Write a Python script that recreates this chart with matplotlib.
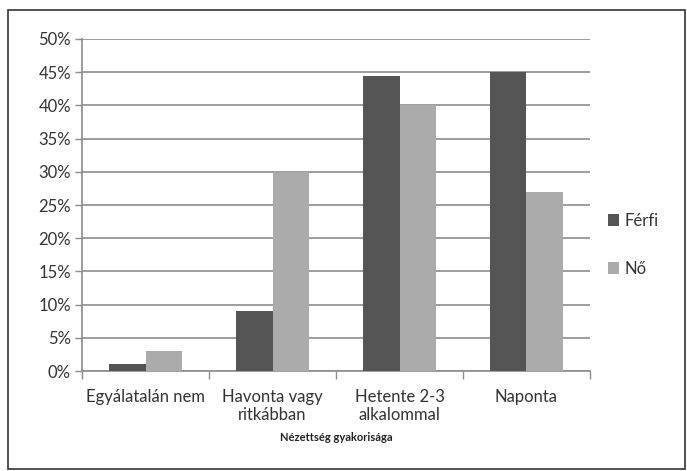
import numpy as np
import matplotlib.pyplot as plt
from matplotlib.patches import Rectangle

plt.rcParams['font.family'] = ['Lato', 'DejaVu Sans']

# nézettség gyakorisága nemenként (%)
categories = ['Egyálatalán nem', 'Havonta vagy\nritkábban', 'Hetente 2-3\nalkalommal', 'Naponta']
ferfi = [1, 9, 44.5, 45]
no = [3, 30, 40, 27]

fig = plt.figure(figsize=(6.87, 4.71), dpi=100)
ax = fig.add_axes([0.1194, 0.2123, 0.7394, 0.7049])

x = np.arange(len(categories))
w = 0.287
ax.bar(x - w / 2, ferfi, w, color='#555555', label='Férfi', zorder=3)
ax.bar(x + w / 2, no, w, color='#ababab', label='Nő', zorder=3)

ax.set_xlim(-0.5, len(categories) - 0.5)
ax.set_ylim(0, 50)
ax.set_yticks(range(0, 51, 5))
ax.set_yticklabels([f'{v}%' for v in range(0, 51, 5)], fontsize=12, color='#333333')
ax.yaxis.grid(True, color='#8c8c8c', linewidth=1.2, zorder=0)

# category labels centred, tick marks on the group boundaries
ax.set_xticks(x)
ax.set_xticklabels(categories, fontsize=12, color='#333333', linespacing=1.15)
ax.tick_params(axis='x', length=0, pad=13)
ax.set_xticks(np.arange(-0.5, len(categories), 1), minor=True)
ax.tick_params(axis='x', which='minor', length=6, color='#8c8c8c', width=1)
ax.tick_params(axis='y', length=5, color='#8c8c8c', width=1, pad=3)

for s in ['top', 'right']:
    ax.spines[s].set_visible(False)
ax.spines['left'].set_color('#8c8c8c')
ax.spines['bottom'].set_color('#8c8c8c')
ax.spines['left'].set_linewidth(1.2)
ax.spines['bottom'].set_linewidth(1.2)

fig.text(0.489, 0.072, 'Nézettség gyakorisága', fontsize=8, fontweight='bold',
         ha='center', va='center', color='#222222')

ax.legend(loc='center left', bbox_to_anchor=(1.005, 0.38), frameon=False,
          fontsize=12, handlelength=0.7, handleheight=0.7, handletextpad=0.3,
          labelspacing=1.9, labelcolor='#333333')

fig.patches.append(Rectangle((8 / 687, 0.005), 677 / 687, 1 - 10 / 471 - 0.005,
                             transform=fig.transFigure, fill=False,
                             edgecolor='#333333', linewidth=1.2))

fig.savefig('out.png', dpi=100)
